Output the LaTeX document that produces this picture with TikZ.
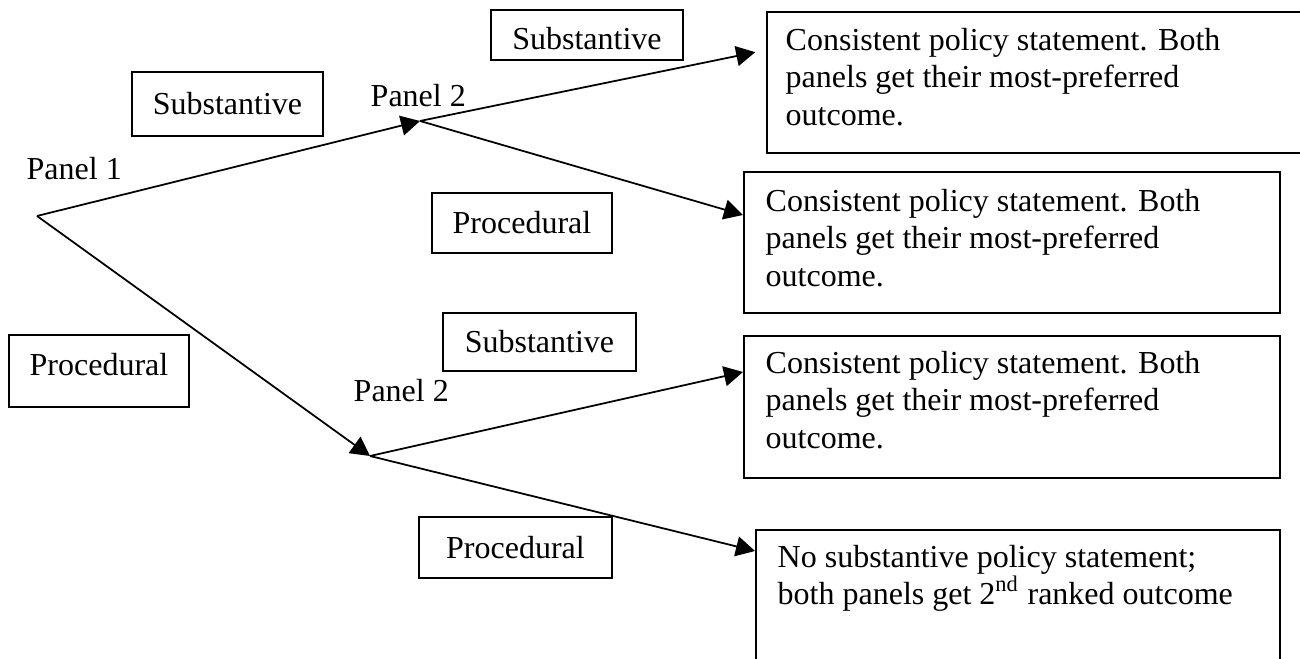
\documentclass[tikz,border=0pt]{standalone}
\usepackage{fontspec}
\setmainfont{Liberation Serif}
\usetikzlibrary{arrows.meta,calc}
\tikzset{choice/.style={draw,line width=.5pt,inner sep=0pt},outcome/.style={draw,line width=.5pt,inner sep=0pt,anchor=north west},txt/.style={align=left,inner sep=0pt,anchor=north west},edge/.style={-{Triangle[length=1.9mm,width=2mm]},line width=.5pt}}

\begin{document}
\begin{tikzpicture}[x=.01cm,y=-.01cm,font=\fontsize{9.1}{10.55}\selectfont]
\clip (0,0) rectangle (1300,659);
% decision points
\coordinate (root) at (37,216);\coordinate (p2a) at (420,121);\coordinate (p2b) at (370,456);
\node[anchor=base west,inner sep=0pt] (pan1) at (26,180){Panel 1};
\node[anchor=base west,inner sep=0pt] (pan2a) at (370,107){Panel 2};
\node[anchor=base west,inner sep=0pt] (pan2b) at (353,402){Panel 2};
% moves
\node[choice,minimum width=1.92cm,minimum height=.50cm,text height=8.2pt] (sub0) at (587,35){Substantive};
\node[choice,minimum width=1.91cm,minimum height=.64cm] (sub1) at (227.5,104){Substantive};
\node[choice,minimum width=1.80cm,minimum height=.60cm] (proc1) at (522,223){Procedural};
\node[choice,minimum width=1.93cm,minimum height=.58cm] (sub2) at (539.5,342){Substantive};
\node[choice,minimum width=1.80cm,minimum height=.72cm,text depth=4pt] (procL) at (99,371){Procedural};
\node[choice,minimum width=1.93cm,minimum height=.61cm] (proc2) at (515.5,547.5){Procedural};
% outcomes
\node[outcome,minimum width=5.5cm,minimum height=1.41cm] (out1) at (766,11){};
\node[outcome,minimum width=5.36cm,minimum height=1.41cm] (out2) at (743,171){};
\node[outcome,minimum width=5.36cm,minimum height=1.42cm] (out3) at (743,335){};
\node[outcome,minimum width=5.24cm,minimum height=1.6cm] (out4) at (755,529){};
\node[txt] (txt1) at ($(out1.north west)+(19,17)$){Consistent policy statement. Both\\panels get their most-preferred\\outcome.};
\node[txt] (txt2) at ($(out2.north west)+(22,18)$){Consistent policy statement. Both\\panels get their most-preferred\\outcome.};
\node[txt] (txt3) at ($(out3.north west)+(22,16)$){Consistent policy statement. Both\\panels get their most-preferred\\outcome.};
\node[txt] (txt4) at ($(out4.north west)+(22,16)$){No substantive policy statement;\\both panels get 2\textsuperscript{nd} ranked outcome};
% branches
\draw[edge](root)--(p2a);\draw[edge](root)--(p2b);
\draw[edge,shorten >=1.1mm](p2a)--($(out1.north west)+(0,39)$);
\draw[edge](p2a)--($(out2.north west)+(0,44)$);
\draw[edge](p2b)--($(out3.north west)+(0,37)$);
\draw[edge](p2b)--($(out4.north west)+(0,22)$);
\end{tikzpicture}
\end{document}
